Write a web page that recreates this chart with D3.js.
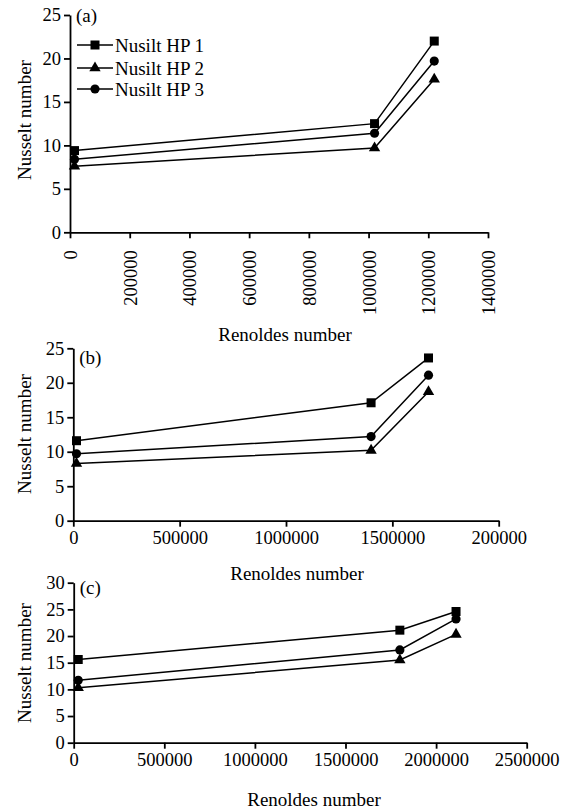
<!DOCTYPE html>
<html>
<head>
<meta charset="utf-8">
<script src="https://cdn.jsdelivr.net/npm/d3@7"></script>
<style>
  html, body { margin: 0; padding: 0; background: #fff; }
  svg { display: block; }
  text { font-family: "Liberation Serif", "Times New Roman", serif; fill: #000; }
</style>
</head>
<body>
<svg id="chart" width="563" height="812"></svg>
<script>
// ---- Data ----
const seriesNames = ["Nusilt HP 1", "Nusilt HP 2", "Nusilt HP 3"];
const seriesSymbols = ["square", "triangle", "circle"];

const reA  = [15000, 1020000, 1220000];
const hp1A = [9.4, 12.5, 22.0];
const hp2A = [7.6, 9.7, 17.6];
const hp3A = [8.4, 11.4, 19.7];

const reB  = [15000, 1400000, 1670000];
const hp1B = [11.6, 17.1, 23.6];
const hp2B = [8.3, 10.2, 18.7];
const hp3B = [9.7, 12.2, 21.1];

const reC  = [25000, 1800000, 2110000];
const hp1C = [15.6, 21.1, 24.6];
const hp2C = [10.3, 15.5, 20.3];
const hp3C = [11.7, 17.4, 23.2];

const xTicksA = [0, 200000, 400000, 600000, 800000, 1000000, 1200000, 1400000];
const xTickLabelsA = ["0", "200000", "400000", "600000", "800000", "1000000", "1200000", "1400000"];
const xTicksB = [0, 500000, 1000000, 1500000, 2000000];
const xTickLabelsB = ["0", "500000", "1000000", "1500000", "200000"];
const xTicksC = [0, 500000, 1000000, 1500000, 2000000, 2500000];
const xTickLabelsC = ["0", "500000", "1000000", "1500000", "2000000", "2500000"];
const yTicks25 = [0, 5, 10, 15, 20, 25];
const yTicks30 = [0, 5, 10, 15, 20, 25, 30];

const panelLabels = ["(a)", "(b)", "(c)"];
const xTitle = "Renoldes number";
const yTitle = "Nusselt number";

// ---- Drawing ----
const svg = d3.select("#chart");
const FONT = 19;
const TICKFONT = 18.5;

const symbolTypes = { square: d3.symbolSquare, triangle: d3.symbolTriangle, circle: d3.symbolCircle };
const symbolSizes = { square: 81, triangle: 56, circle: 66 };

function marker(g, type, x, y) {
  g.append("path")
    .attr("d", d3.symbol().type(symbolTypes[type]).size(symbolSizes[type])())
    .attr("transform", `translate(${x},${y})`)
    .attr("fill", "#000");
}

function drawPanel(cfg) {
  const g = svg.append("g");
  const x = d3.scaleLinear().domain(cfg.xDomain).range([cfg.x0, cfg.x1]);
  const y = d3.scaleLinear().domain(cfg.yDomain).range([cfg.yBot, cfg.yTop]);

  // y axis
  const ya = g.append("g").attr("transform", `translate(${cfg.x0},0)`)
    .call(d3.axisLeft(y).tickValues(cfg.yTicks).tickSize(6).tickSizeOuter(0).tickPadding(3).tickFormat(d3.format("d")));
  ya.selectAll("path.domain").attr("stroke", "#000").attr("stroke-width", 1.8);
  ya.selectAll(".tick line").attr("stroke", "#000").attr("stroke-width", 1.8);
  ya.selectAll(".tick text").attr("font-size", TICKFONT).attr("font-family", "Liberation Serif, serif").attr("fill", "#000");

  // x axis
  const xa = g.append("g").attr("transform", `translate(0,${cfg.yBot})`)
    .call(d3.axisBottom(x).tickValues(cfg.xTicks).tickSize(6).tickSizeOuter(0)
      .tickFormat((d, i) => cfg.xTickLabels[i]));
  xa.selectAll("path.domain").attr("stroke", "#000").attr("stroke-width", 1.8);
  xa.selectAll(".tick line").attr("stroke", "#000").attr("stroke-width", 1.8);
  xa.selectAll(".tick text").attr("font-size", TICKFONT).attr("font-family", "Liberation Serif, serif").attr("fill", "#000");
  if (cfg.rotate) {
    xa.selectAll(".tick text")
      .attr("text-anchor", "end")
      .attr("transform", "translate(0,18) rotate(-90)")
      .attr("x", 0).attr("y", 0).attr("dy", "0.35em");
  } else {
    xa.selectAll(".tick text").attr("y", 10).attr("dy", "0.71em");
  }

  // axis titles
  g.append("text").attr("x", cfg.xTitleX).attr("y", cfg.xTitleY)
    .attr("text-anchor", "middle").attr("font-size", FONT).text(xTitle);
  g.append("text").attr("transform", `translate(${cfg.yTitleX},${cfg.yTitleY}) rotate(-90)`)
    .attr("text-anchor", "middle").attr("dy", "0.35em").attr("font-size", FONT).text(yTitle);

  // panel label
  g.append("text").attr("x", cfg.x0 + 6).attr("y", cfg.labelY)
    .attr("font-size", FONT).text(cfg.label);

  // series
  const line = d3.line().x(d => x(d[0])).y(d => y(d[1]));
  cfg.series.forEach((vals, si) => {
    const pts = cfg.re.map((r, i) => [r, vals[i]]);
    g.append("path").datum(pts).attr("d", line)
      .attr("fill", "none").attr("stroke", "#000").attr("stroke-width", 1.5);
    pts.forEach(p => marker(g, seriesSymbols[si], x(p[0]), y(p[1])));
  });
  return g;
}

drawPanel({
  x0: 70, x1: 488, yTop: 15, yBot: 232.3,
  xDomain: [0, 1400000], yDomain: [0, 25],
  xTicks: xTicksA, xTickLabels: xTickLabelsA, yTicks: yTicks25, rotate: true,
  xTitleX: 285, xTitleY: 341, yTitleX: 24, yTitleY: 120,
  label: panelLabels[0], labelY: 22,
  re: reA, series: [hp1A, hp2A, hp3A]
});

drawPanel({
  x0: 73.3, x1: 498.7, yTop: 348.3, yBot: 520.7,
  xDomain: [0, 2000000], yDomain: [0, 25],
  xTicks: xTicksB, xTickLabels: xTickLabelsB, yTicks: yTicks25, rotate: false,
  xTitleX: 297, xTitleY: 580, yTitleX: 24, yTitleY: 434,
  label: panelLabels[1], labelY: 364,
  re: reB, series: [hp1B, hp2B, hp3B]
});

drawPanel({
  x0: 73.7, x1: 526.7, yTop: 582.7, yBot: 742.7,
  xDomain: [0, 2500000], yDomain: [0, 30],
  xTicks: xTicksC, xTickLabels: xTickLabelsC, yTicks: yTicks30, rotate: false,
  xTitleX: 314, xTitleY: 806, yTitleX: 24, yTitleY: 663,
  label: panelLabels[2], labelY: 594,
  re: reC, series: [hp1C, hp2C, hp3C]
});

// legend (panel a)
const legendY = [45, 68, 89];
const lg = svg.append("g");
seriesNames.forEach((name, i) => {
  const yy = legendY[i];
  lg.append("line").attr("x1", 77).attr("x2", 113).attr("y1", yy).attr("y2", yy)
    .attr("stroke", "#000").attr("stroke-width", 1.5);
  marker(lg, seriesSymbols[i], 95, yy);
  lg.append("text").attr("x", 115).attr("y", yy).attr("dy", "0.35em")
    .attr("font-size", FONT).text(name);
});
</script>
</body>
</html>
